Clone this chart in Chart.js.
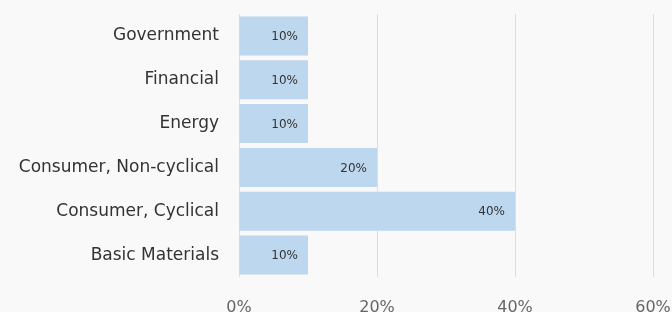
<!DOCTYPE html>
<html>
<head>
<meta charset="utf-8">
<script src="https://cdn.jsdelivr.net/npm/chart.js@4/dist/chart.umd.min.js"></script>
<style>
  html, body { margin: 0; padding: 0; background: #f9f9f9; overflow: hidden; }
  #wrap { position: absolute; left: 0; top: 0; width: 700px; height: 330px; }
</style>
</head>
<body>
<div id="wrap"><canvas id="c"></canvas></div>
<script>
const categories = ["Government", "Financial", "Energy", "Consumer, Non-cyclical", "Consumer, Cyclical", "Basic Materials"];
const values = [10, 10, 10, 20, 40, 10];
const xTicks = [0, 20, 40, 60];

const FONT = "'DejaVu Sans', sans-serif";

const barLabels = {
  id: 'barLabels',
  afterDatasetsDraw(chart) {
    const ctx = chart.ctx;
    const meta = chart.getDatasetMeta(0);
    ctx.save();
    ctx.font = "12px " + FONT;
    ctx.fillStyle = "#333";
    ctx.textAlign = "right";
    ctx.textBaseline = "middle";
    meta.data.forEach((bar, i) => {
      ctx.fillText(values[i] + "%", bar.x - 10, bar.y + 1);
    });
    ctx.restore();
  }
};

new Chart(document.getElementById('c'), {
  type: 'bar',
  data: {
    labels: categories,
    datasets: [{
      data: values,
      backgroundColor: '#bdd7ee',
      borderWidth: 0,
      barPercentage: 0.89,
      categoryPercentage: 1.0
    }]
  },
  options: {
    indexAxis: 'y',
    responsive: true,
    maintainAspectRatio: false,
    animation: false,
    layout: { padding: { left: 0, top: 14, right: 47, bottom: 0 } },
    plugins: { legend: { display: false }, tooltip: { enabled: false } },
    scales: {
      x: {
        min: 0, max: 60,
        afterBuildTicks(scale) { scale.ticks = xTicks.map(v => ({ value: v })); },
        grid: { color: '#dddddd', drawTicks: false, lineWidth: 1 },
        border: { display: false },
        ticks: {
          callback: v => v + '%',
          color: '#666',
          font: { family: FONT, size: 16 },
          padding: 21,
          maxRotation: 0
        },
        afterFit(scale) { scale.height = 53; scale.paddingLeft = 0; scale.paddingRight = 0; }
      },
      y: {
        grid: { display: false, drawTicks: false },
        border: { display: false },
        ticks: {
          color: '#333',
          font: { family: FONT, size: 17 },
          padding: 20
        },
        afterFit(scale) { scale.width = 239; scale.paddingTop = 0; scale.paddingBottom = 0; }
      }
    }
  },
  plugins: [barLabels]
});
</script>
</body>
</html>
